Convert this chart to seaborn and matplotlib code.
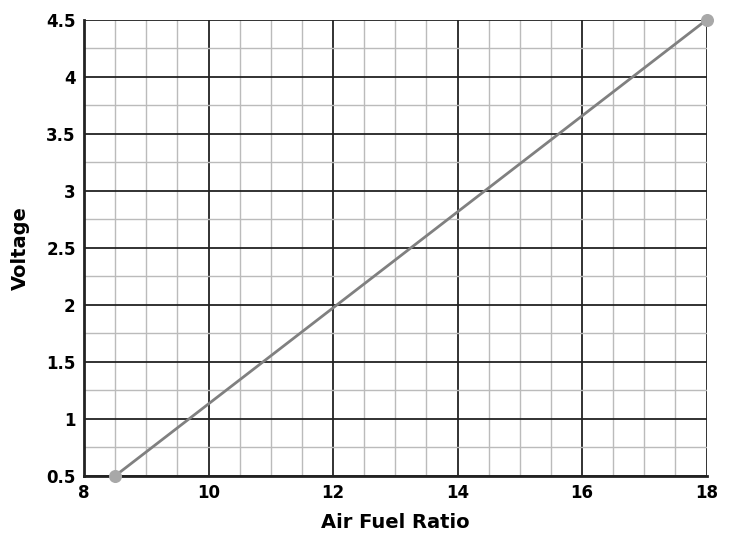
import numpy as np
import matplotlib.pyplot as plt
import seaborn as sns
from matplotlib.ticker import MultipleLocator

afr = [8.5, 18]
voltage = [0.5, 4.5]

sns.set_style("white")
fig, ax = plt.subplots(figsize=(7.5, 5.54), dpi=100)
fig.subplots_adjust(left=0.112, right=0.942, top=0.964, bottom=0.141)

ax.plot(afr, voltage, color="#808080", lw=2, zorder=3, clip_on=False)
ax.scatter(afr, voltage, color="#a8a8a8", s=70, zorder=4, clip_on=False)

ax.set_xlim(8, 18)
ax.set_ylim(0.5, 4.5)
ax.xaxis.set_major_locator(MultipleLocator(2))
ax.xaxis.set_minor_locator(MultipleLocator(0.5))
ax.yaxis.set_minor_locator(MultipleLocator(0.25))
ax.set_yticks([0.5, 1, 1.5, 2, 2.5, 3, 3.5, 4, 4.5])
ax.set_yticklabels(["0.5", "1", "1.5", "2", "2.5", "3", "3.5", "4", "4.5"])
ax.grid(which="major", color="#222222", lw=1.3)
ax.grid(which="minor", color="#bbbbbb", lw=1)
ax.tick_params(which="both", length=0, labelsize=12, labelcolor="black", pad=6)
for lab in ax.get_xticklabels() + ax.get_yticklabels():
    lab.set_fontweight("semibold")
for s in ["top", "right"]:
    ax.spines[s].set_visible(False)
ax.spines["left"].set_color("#222222")
ax.spines["left"].set_linewidth(2)
ax.spines["bottom"].set_color("#222222")
ax.spines["bottom"].set_linewidth(2)
ax.set_xlabel("Air Fuel Ratio", fontsize=14, fontweight="bold", color="black", labelpad=8)
ax.set_ylabel("Voltage", fontsize=14, fontweight="bold", color="black", labelpad=12)

fig.savefig("out.png")
